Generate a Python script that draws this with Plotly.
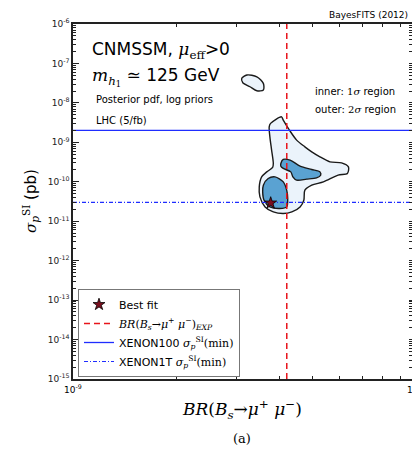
import plotly.graph_objects as go

# Credible regions in the (BR(Bs->mu mu), sigma_p^SI) plane, stored as log10 values
outer_lbr = [-8.424, -8.392, -8.387, -8.369, -8.348, -8.324, -8.304, -8.280, -8.251, -8.217,
             -8.197, -8.200, -8.227, -8.270, -8.304, -8.324, -8.327, -8.338, -8.362, -8.387,
             -8.416, -8.440, -8.455, -8.457, -8.450, -8.435, -8.418, -8.416, -8.421, -8.426,
             -8.428]
outer_lsig = [-8.520, -8.353, -8.437, -8.690, -8.944, -9.114, -9.241, -9.368, -9.495, -9.520,
              -9.622, -9.789, -9.832, -10.003, -10.086, -10.213, -10.467, -10.637, -10.764, -10.805,
              -10.764, -10.637, -10.383, -10.129, -9.876, -9.749, -9.637, -9.536, -9.198, -8.860,
              -8.607]

island_lbr = [-8.508, -8.493, -8.464, -8.445, -8.445, -8.464, -8.484, -8.505]
island_lsig = [-7.378, -7.294, -7.338, -7.505, -7.675, -7.693, -7.591, -7.490]

inner_up_lbr = [-8.394, -8.387, -8.367, -8.338, -8.304, -8.280, -8.278, -8.290, -8.319, -8.348,
                -8.359, -8.365, -8.387, -8.394]
inner_up_lsig = [-9.536, -9.434, -9.452, -9.604, -9.688, -9.749, -9.832, -9.901, -9.934, -9.959,
                 -9.876, -9.749, -9.662, -9.604]

inner_lo_lbr = [-8.445, -8.431, -8.411, -8.387, -8.377, -8.374, -8.377, -8.397, -8.426, -8.443,
                -8.447]
inner_lo_lsig = [-10.086, -9.916, -9.876, -10.003, -10.213, -10.424, -10.637, -10.678, -10.637, -10.467,
                 -10.256]

# Best-fit point and reference limits
best_fit_br = 3.77e-9
best_fit_sig = 2.9e-11
br_exp = 4.2e-9
xenon100 = 2.0e-9
xenon1t = 3.0e-11

x_range = [1e-9, 1e-8]
y_range = [1e-15, 1e-6]
y_tick_exps = [-6, -7, -8, -9, -10, -11, -12, -13, -14, -15]

SERIF = "DejaVu Serif"
SANS = "DejaVu Sans"

OUTER_FILL = "#ebf3fb"
INNER_FILL = "#5aa2d2"
EDGE = "#1a1a1a"


def unlog(v):
    return [10 ** a for a in v]


def closed(v):
    return v + v[:1]


fig = go.Figure()

for lbr, lsig, fill in [
    (outer_lbr, outer_lsig, OUTER_FILL),
    (island_lbr, island_lsig, OUTER_FILL),
    (inner_up_lbr, inner_up_lsig, INNER_FILL),
    (inner_lo_lbr, inner_lo_lsig, INNER_FILL),
]:
    fig.add_trace(go.Scatter(
        x=unlog(closed(lbr)), y=unlog(closed(lsig)),
        mode="lines", fill="toself", fillcolor=fill,
        line=dict(color=EDGE, width=1.4, shape="spline", smoothing=0.8),
        showlegend=False, hoverinfo="skip",
    ))

fig.add_trace(go.Scatter(
    x=[br_exp, br_exp], y=y_range, mode="lines",
    line=dict(color="#e8141b", width=1.5, dash="6px,4px"),
    name=f"<span style='font-family:{SERIF}'><i>BR</i>(<i>B<sub>s</sub></i>→<i>μ</i><sup>+</sup> "
         f"<i>μ</i><sup>−</sup>)<sub><i>EXP</i></sub></span>",
    legendrank=2,
))
fig.add_trace(go.Scatter(
    x=x_range, y=[xenon100, xenon100], mode="lines",
    line=dict(color="#1f2dff", width=1.3),
    name=f"XENON100 <span style='font-family:{SERIF}'><i>σ</i><sub><i>p</i></sub><sup>SI</sup>(min)</span>",
    legendrank=3,
))
fig.add_trace(go.Scatter(
    x=x_range, y=[xenon1t, xenon1t], mode="lines",
    line=dict(color="#1f2dff", width=1.2, dash="4px,2px,1px,2px"),
    name=f"XENON1T <span style='font-family:{SERIF}'><i>σ</i><sub><i>p</i></sub><sup>SI</sup>(min)</span>",
    legendrank=4,
))
fig.add_trace(go.Scatter(
    x=[best_fit_br], y=[best_fit_sig], mode="markers",
    marker=dict(symbol="star", size=9, color="#7a0f1e", line=dict(color="black", width=0.8)),
    name="Best fit", legendrank=1,
))

# plot area spans pixels x 73..412, y 24..379
L, R, T, B = 73, 412, 24, 379
X_LOG_RANGE = [-9, -9 + (R - L) / 343]


def px(xp):
    return (xp - L) / (R - L)


def py(yp):
    return (B - yp) / (B - T)


def ann(text, x, y, size, family=SANS, xanchor="left", **kw):
    fig.add_annotation(text=text, x=x, y=y, xref="paper", yref="paper",
                       xanchor=xanchor, yanchor="middle", showarrow=False,
                       font=dict(size=size, family=family, color="black"), **kw)


ann("BayesFITS (2012)", px(410), py(15), 9, xanchor="right")
ann(f"CNMSSM, <span style='font-family:{SERIF}'><i>μ</i><sub>eff</sub></span>&gt;0", px(90), py(50), 17)
ann(f"<span style='font-family:{SERIF}'><i>m</i><sub><i>h</i><sub>1</sub></sub></span> ≃ 125 GeV",
    px(90), py(77), 17)
ann("Posterior pdf, log priors", px(94), py(99), 10)
ann("LHC (5/fb)", px(94), py(121), 10)
ann(f"inner: <span style='font-family:{SERIF}'>1<i>σ</i></span> region", px(313), py(92), 10)
ann(f"outer: <span style='font-family:{SERIF}'>2<i>σ</i></span> region", px(313), py(109), 10)
ann("<i>BR</i>(<i>B<sub>s</sub></i>→<i>μ</i><sup>+</sup> <i>μ</i><sup>−</sup>)", px(242), py(410), 17,
    family=SERIF, xanchor="center")
ann("(a)", px(242), py(438), 13, family=SERIF, xanchor="center")
ann(f"<span style='font-family:{SERIF}'><i>σ</i><sub><i>p</i></sub><sup>SI</sup></span> (pb)",
    px(30), py(201), 15, xanchor="center", textangle=-90)
ann("10<sup>-9</sup>", px(73), py(389), 9, xanchor="center")
ann("10<sup>-8</sup>", px(416), py(389), 9, xanchor="center")

axis_common = dict(
    type="log", showgrid=False, zeroline=False,
    showline=True, linecolor="#222", linewidth=1.5,
    ticks="inside", ticklen=6, tickwidth=1, tickcolor="#222",
)
# overlay axes that only carry the minor (2..9) ticks of each decade
minor_common = dict(
    type="log", showgrid=False, zeroline=False, showline=False,
    ticks="inside", ticklen=3, tickwidth=0.8, tickcolor="#222",
    dtick="D1", showticklabels=False, mirror="ticks",
)

fig.update_layout(
    xaxis=dict(**axis_common, range=X_LOG_RANGE, mirror="ticks", showticklabels=False,
               tickvals=[1e-9, 1e-8]),
    yaxis=dict(**axis_common, range=[-15, -6],
               tickvals=[10.0 ** e for e in y_tick_exps],
               ticktext=[f"10<sup>{e}</sup>" for e in y_tick_exps],
               tickfont=dict(size=9, family=SANS, color="#222")),
    xaxis2=dict(**minor_common, range=X_LOG_RANGE, overlaying="x", anchor="y", side="bottom"),
    yaxis2=dict(**minor_common, range=[-15, -6], overlaying="y", anchor="x", side="left"),
)
# an empty trace so the minor-tick axes are laid out
fig.add_trace(go.Scatter(x=[], y=[], xaxis="x2", yaxis="y2", showlegend=False, hoverinfo="skip"))

fig.update_layout(
    width=412, height=455,
    margin=dict(l=L, r=0, t=T, b=455 - B),
    paper_bgcolor="white", plot_bgcolor="white",
    font=dict(family=SANS, color="black"),
    legend=dict(
        x=px(78), y=py(289), xanchor="left", yanchor="top",
        bgcolor="white", bordercolor="#777", borderwidth=1,
        font=dict(size=11, family=SANS, color="black"),
        tracegroupgap=0, itemwidth=30,
    ),
)

fig.write_html("out.html")
